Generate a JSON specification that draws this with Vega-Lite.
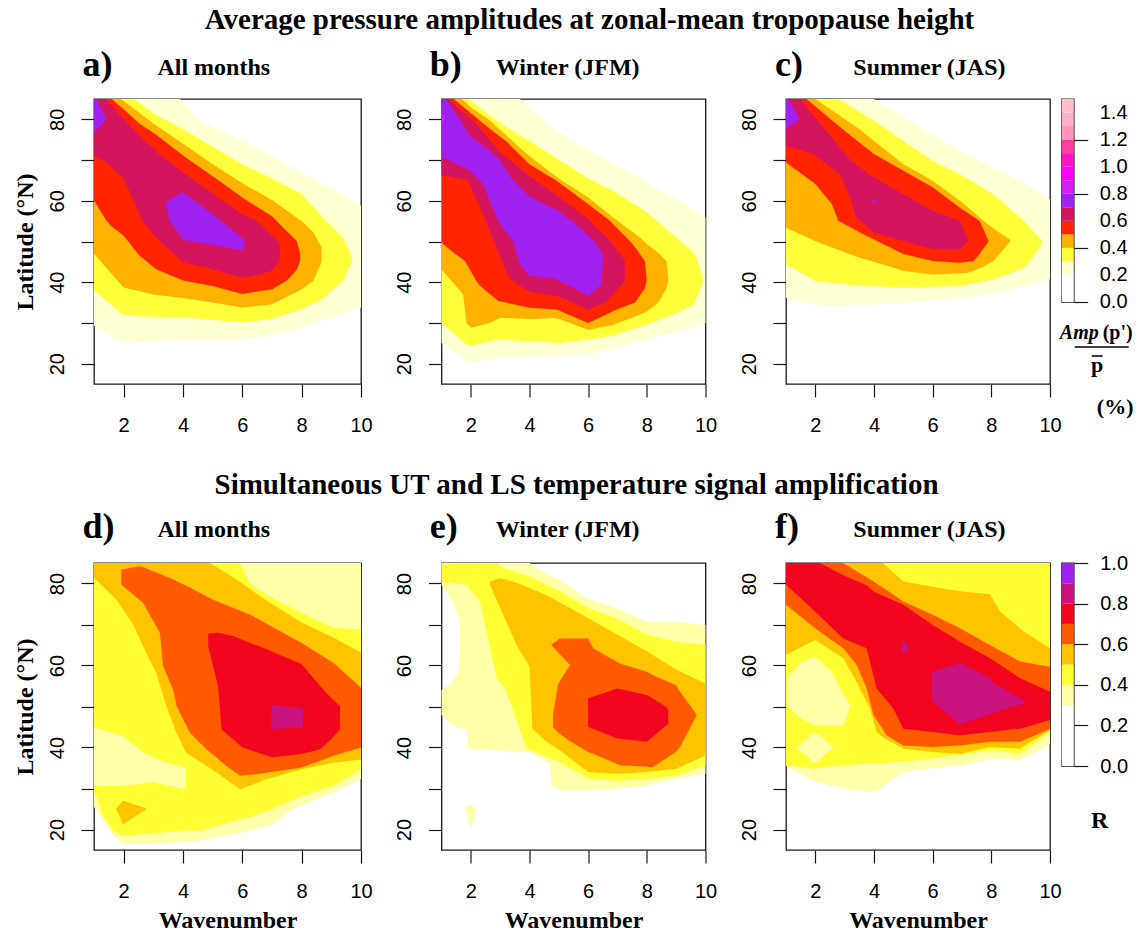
{
"$schema": "https://vega.github.io/schema/vega-lite/v6.json",
"background": "white",
"padding": {"left": 12, "top": 5, "right": 5, "bottom": 5},
"config": {
 "view": {"stroke": "#1a1a1a", "strokeWidth": 1.3},
 "axis": {"grid": false, "domain": false, "ticks": true, "tickColor": "#1a1a1a", "tickWidth": 1.2, "tickSize": 13, "labelFont": "Liberation Sans", "labelFontSize": 20, "labelColor": "#000", "titleFont": "Liberation Serif", "titleFontSize": 24, "titleFontWeight": "bold", "titleColor": "#000", "labelOverlap": false, "labelFlush": false, "labelBound": false},
 "text": {"font": "Liberation Serif", "fontWeight": "bold", "color": "#000"},
 "area": {"strokeWidth": 0}
},
"datasets": {
 "a": [
  {"c":"p2","w":1,"lo":29.3,"hi":85},{"c":"p2","w":2,"lo":25,"hi":85},{"c":"p2","w":3,"lo":25.5,"hi":85},{"c":"p2","w":3.9,"lo":26,"hi":85},{"c":"p2","w":4.57,"lo":26,"hi":79.7},{"c":"p2","w":6,"lo":26,"hi":74.8},{"c":"p2","w":7,"lo":26.9,"hi":71},{"c":"p2","w":8,"lo":28.9,"hi":67},{"c":"p2","w":9,"lo":31.4,"hi":63},{"c":"p2","w":10,"lo":33.8,"hi":58.8},
  {"c":"p3","w":1,"lo":38,"hi":85},{"c":"p3","w":2,"lo":31.8,"hi":85},{"c":"p3","w":2.35,"lo":31.7,"hi":85},{"c":"p3","w":3,"lo":31.5,"hi":81.5},{"c":"p3","w":4,"lo":31.4,"hi":77.6},{"c":"p3","w":5,"lo":30.8,"hi":73.3},{"c":"p3","w":6,"lo":30.1,"hi":69},{"c":"p3","w":7,"lo":31,"hi":65.5},{"c":"p3","w":8,"lo":33.4,"hi":61.7},{"c":"p3","w":8.7,"lo":35.9,"hi":56},{"c":"p3","w":9.4,"lo":40.4,"hi":51},{"c":"p3","w":9.7,"lo":45.3,"hi":46},
  {"c":"p4","w":1,"lo":47,"hi":85},{"c":"p4","w":1.9,"lo":39.5,"hi":85},{"c":"p4","w":2,"lo":38.7,"hi":84.5},{"c":"p4","w":3,"lo":37,"hi":79},{"c":"p4","w":4,"lo":36.1,"hi":74},{"c":"p4","w":5,"lo":35,"hi":69},{"c":"p4","w":6,"lo":33.8,"hi":64.3},{"c":"p4","w":7,"lo":34.6,"hi":60.2},{"c":"p4","w":8,"lo":38.3,"hi":55},{"c":"p4","w":8.4,"lo":40.4,"hi":52.2},{"c":"p4","w":8.67,"lo":45,"hi":48.5},
  {"c":"p5","w":1,"lo":60,"hi":85},{"c":"p5","w":1.42,"lo":55.1,"hi":85},{"c":"p5","w":1.6,"lo":53.7,"hi":85},{"c":"p5","w":2,"lo":51.4,"hi":82.5},{"c":"p5","w":2.54,"lo":46.5,"hi":78.9},{"c":"p5","w":3.1,"lo":43.2,"hi":76.2},{"c":"p5","w":4,"lo":40.4,"hi":71.1},{"c":"p5","w":5,"lo":39.1,"hi":66},{"c":"p5","w":6,"lo":37.1,"hi":60.8},{"c":"p5","w":7,"lo":38.3,"hi":56.2},{"c":"p5","w":7.5,"lo":40.4,"hi":52.5},{"c":"p5","w":7.83,"lo":43,"hi":50.2},{"c":"p5","w":7.95,"lo":45.3,"hi":47},
  {"c":"p6","w":1,"lo":71.1,"hi":85},{"c":"p6","w":1.4,"lo":69.5,"hi":85},{"c":"p6","w":2,"lo":65.5,"hi":80},{"c":"p6","w":2.65,"lo":54.7,"hi":75.2},{"c":"p6","w":3.2,"lo":50.2,"hi":71.5},{"c":"p6","w":4,"lo":44.9,"hi":67},{"c":"p6","w":5,"lo":43.2,"hi":61.7},{"c":"p6","w":6,"lo":41,"hi":56.7},{"c":"p6","w":6.5,"lo":41.8,"hi":55},{"c":"p6","w":7,"lo":42.8,"hi":51.5},{"c":"p6","w":7.27,"lo":45.3,"hi":49.5},
  {"c":"p7","s":"1","w":1,"lo":76.8,"hi":85},{"c":"p7","s":"1","w":1.08,"lo":77.4,"hi":85},{"c":"p7","s":"1","w":1.42,"lo":80,"hi":80.1},
  {"c":"p7","s":"2","w":3.44,"lo":58.5,"hi":59.6},{"c":"p7","s":"2","w":3.55,"lo":55.1,"hi":60.3},{"c":"p7","s":"2","w":4,"lo":50.4,"hi":62.1},{"c":"p7","s":"2","w":5,"lo":49.2,"hi":56.7},{"c":"p7","s":"2","w":6,"lo":47.7,"hi":50.8},{"c":"p7","s":"2","w":6.08,"lo":49.5,"hi":50.2}
 ],
 "b": [
  {"c":"p2","w":1,"lo":25.1,"hi":85},{"c":"p2","w":1.97,"lo":20.2,"hi":85},{"c":"p2","w":2.93,"lo":21.4,"hi":85},{"c":"p2","w":3.67,"lo":21.4,"hi":85},{"c":"p2","w":4.47,"lo":21.8,"hi":79.7},{"c":"p2","w":5.26,"lo":22.2,"hi":75.6},{"c":"p2","w":6,"lo":22.2,"hi":72.5},{"c":"p2","w":7.08,"lo":24.3,"hi":68.2},{"c":"p2","w":7.53,"lo":25,"hi":66.5},{"c":"p2","w":8,"lo":25.9,"hi":64.4},{"c":"p2","w":9.1,"lo":28,"hi":60},{"c":"p2","w":10,"lo":30,"hi":55.9},
  {"c":"p3","w":1,"lo":30,"hi":85},{"c":"p3","w":1.9,"lo":24.4,"hi":85},{"c":"p3","w":2,"lo":24.4,"hi":84.5},{"c":"p3","w":2.93,"lo":25.9,"hi":79.4},{"c":"p3","w":4,"lo":25.5,"hi":74.7},{"c":"p3","w":5.03,"lo":25.1,"hi":69.9},{"c":"p3","w":6,"lo":25.9,"hi":65.5},{"c":"p3","w":6.85,"lo":26.9,"hi":62.4},{"c":"p3","w":8,"lo":29.6,"hi":57.2},{"c":"p3","w":9,"lo":32.4,"hi":51},{"c":"p3","w":9.58,"lo":34.5,"hi":47.3},{"c":"p3","w":9.7,"lo":36.4,"hi":46},{"c":"p3","w":9.92,"lo":40.2,"hi":40.4},
  {"c":"p4","w":1,"lo":43.2,"hi":85},{"c":"p4","w":1.68,"lo":37.5,"hi":85},{"c":"p4","w":1.74,"lo":37,"hi":84.7},{"c":"p4","w":1.85,"lo":30,"hi":84},{"c":"p4","w":2,"lo":28.8,"hi":83},{"c":"p4","w":2.65,"lo":30,"hi":79.7},{"c":"p4","w":3,"lo":31.3,"hi":77.4},{"c":"p4","w":3.78,"lo":31,"hi":72.3},{"c":"p4","w":4,"lo":30.9,"hi":71},{"c":"p4","w":4.8,"lo":31.2,"hi":66.5},{"c":"p4","w":5,"lo":31,"hi":65.5},{"c":"p4","w":6,"lo":28.3,"hi":60.8},{"c":"p4","w":6.85,"lo":29.5,"hi":55.9},{"c":"p4","w":7,"lo":30,"hi":55.1},{"c":"p4","w":7.76,"lo":32,"hi":51},{"c":"p4","w":8,"lo":32.8,"hi":49.4},{"c":"p4","w":8.39,"lo":35,"hi":47.2},{"c":"p4","w":8.67,"lo":38.5,"hi":45.2},{"c":"p4","w":8.73,"lo":40.3,"hi":41},
  {"c":"p5","w":1,"lo":49.7,"hi":85},{"c":"p5","w":1.42,"lo":47.2,"hi":85},{"c":"p5","w":1.8,"lo":45.2,"hi":82.7},{"c":"p5","w":2.19,"lo":40.3,"hi":80.4},{"c":"p5","w":2.3,"lo":39.2,"hi":79.7},{"c":"p5","w":2.93,"lo":35.4,"hi":76.1},{"c":"p5","w":3.2,"lo":35,"hi":74.7},{"c":"p5","w":4,"lo":33.7,"hi":69},{"c":"p5","w":4.92,"lo":33.3,"hi":64.9},{"c":"p5","w":6,"lo":30,"hi":59.2},{"c":"p5","w":6.74,"lo":32.5,"hi":55.1},{"c":"p5","w":6.85,"lo":32.9,"hi":54.3},{"c":"p5","w":7.42,"lo":34.5,"hi":50.1},{"c":"p5","w":7.6,"lo":35,"hi":48.6},{"c":"p5","w":7.93,"lo":38.5,"hi":45.2},{"c":"p5","w":7.99,"lo":40.3,"hi":41},
  {"c":"p6","w":1,"lo":66.3,"hi":85},{"c":"p6","w":1.23,"lo":66,"hi":85},{"c":"p6","w":1.9,"lo":65,"hi":80.8},{"c":"p6","w":2.08,"lo":62,"hi":79.7},{"c":"p6","w":2.4,"lo":57,"hi":77},{"c":"p6","w":2.9,"lo":48,"hi":72.8},{"c":"p6","w":3,"lo":46.3,"hi":72},{"c":"p6","w":3.3,"lo":41,"hi":70.2},{"c":"p6","w":4,"lo":37.6,"hi":66},{"c":"p6","w":5,"lo":36.5,"hi":61},{"c":"p6","w":6,"lo":33.3,"hi":55.5},{"c":"p6","w":6.6,"lo":35,"hi":51.2},{"c":"p6","w":6.7,"lo":35.7,"hi":50.5},{"c":"p6","w":7.25,"lo":40.3,"hi":45.5},
  {"c":"p7","w":1,"lo":70.6,"hi":85},{"c":"p7","w":1.17,"lo":70.2,"hi":85},{"c":"p7","w":1.97,"lo":67.4,"hi":76},{"c":"p7","w":2.42,"lo":64,"hi":73.5},{"c":"p7","w":2.93,"lo":55,"hi":70.6},{"c":"p7","w":3.44,"lo":50,"hi":65},{"c":"p7","w":3.67,"lo":44.4,"hi":63.4},{"c":"p7","w":4,"lo":41.5,"hi":61},{"c":"p7","w":4.8,"lo":41.1,"hi":58.2},{"c":"p7","w":5,"lo":40.4,"hi":57.5},{"c":"p7","w":5.7,"lo":37.9,"hi":53.5},{"c":"p7","w":6,"lo":36.6,"hi":51.4},{"c":"p7","w":6.2,"lo":37.8,"hi":50},{"c":"p7","w":6.45,"lo":39.5,"hi":47.6},{"c":"p7","w":6.5,"lo":45,"hi":47},
  {"c":"p8","w":1,"lo":79,"hi":81.5},{"c":"p8","w":1.1,"lo":80.2,"hi":80.4}
 ],
 "c": [
  {"c":"p2","w":1,"lo":36.2,"hi":85},{"c":"p2","w":1.93,"lo":34.5,"hi":85},{"c":"p2","w":2.95,"lo":34.1,"hi":85},{"c":"p2","w":3.98,"lo":34.5,"hi":85},{"c":"p2","w":4.89,"lo":34.9,"hi":81.3},{"c":"p2","w":6,"lo":35.6,"hi":76},{"c":"p2","w":6.93,"lo":36.2,"hi":72.3},{"c":"p2","w":8.07,"lo":37.4,"hi":68.2},{"c":"p2","w":9.2,"lo":39.2,"hi":64.1},{"c":"p2","w":10,"lo":40.7,"hi":60.4},
  {"c":"p3","w":1,"lo":44.4,"hi":85},{"c":"p3","w":2,"lo":40.3,"hi":85},{"c":"p3","w":2.78,"lo":39.7,"hi":85},{"c":"p3","w":3.52,"lo":39.1,"hi":81.8},{"c":"p3","w":4,"lo":39,"hi":79.7},{"c":"p3","w":5,"lo":38.7,"hi":74.7},{"c":"p3","w":6,"lo":38.9,"hi":69.8},{"c":"p3","w":6.93,"lo":39.1,"hi":66.5},{"c":"p3","w":8.07,"lo":40.7,"hi":61.6},{"c":"p3","w":9.1,"lo":43.5,"hi":55.1},{"c":"p3","w":9.32,"lo":45.2,"hi":53.3},{"c":"p3","w":9.72,"lo":49.5,"hi":50.3},
  {"c":"p4","w":1,"lo":53.4,"hi":85},{"c":"p4","w":2,"lo":50.1,"hi":85},{"c":"p4","w":2.1,"lo":49.8,"hi":84.5},{"c":"p4","w":3.07,"lo":47.2,"hi":79.7},{"c":"p4","w":3.52,"lo":46,"hi":77.5},{"c":"p4","w":4,"lo":45,"hi":74.7},{"c":"p4","w":5,"lo":42.8,"hi":69},{"c":"p4","w":6,"lo":41.9,"hi":64.9},{"c":"p4","w":6.93,"lo":42.2,"hi":60},{"c":"p4","w":7.2,"lo":42.3,"hi":58.4},{"c":"p4","w":7.73,"lo":43.8,"hi":55.1},{"c":"p4","w":8.07,"lo":45.2,"hi":53.2},{"c":"p4","w":8.64,"lo":50,"hi":50.4},
  {"c":"p5","w":1,"lo":69.4,"hi":85},{"c":"p5","w":1.7,"lo":65.7,"hi":85},{"c":"p5","w":2,"lo":64.1,"hi":83.2},{"c":"p5","w":2.56,"lo":59.2,"hi":79.8},{"c":"p5","w":2.78,"lo":55.1,"hi":78.5},{"c":"p5","w":3.07,"lo":54,"hi":76.8},{"c":"p5","w":3.52,"lo":52.2,"hi":74.2},{"c":"p5","w":4,"lo":50.5,"hi":71.5},{"c":"p5","w":5,"lo":46.9,"hi":67.4},{"c":"p5","w":6,"lo":45.2,"hi":63.3},{"c":"p5","w":6.93,"lo":44.8,"hi":58.3},{"c":"p5","w":7.4,"lo":45.2,"hi":56},{"c":"p5","w":7.6,"lo":47,"hi":55.1},{"c":"p5","w":7.9,"lo":50,"hi":50.2},
  {"c":"p6","w":1,"lo":73.5,"hi":85},{"c":"p6","w":1.48,"lo":72.5,"hi":85},{"c":"p6","w":1.93,"lo":71.5,"hi":81},{"c":"p6","w":2.84,"lo":66.5,"hi":73},{"c":"p6","w":3.18,"lo":60.8,"hi":70},{"c":"p6","w":3.4,"lo":55.9,"hi":68.8},{"c":"p6","w":4,"lo":52.2,"hi":65.7},{"c":"p6","w":5,"lo":50.1,"hi":61.6},{"c":"p6","w":6,"lo":48.1,"hi":57.5},{"c":"p6","w":6.93,"lo":48.1,"hi":55.1},{"c":"p6","w":7.2,"lo":50,"hi":50.3},
  {"c":"p7","s":"1","w":1,"lo":77.6,"hi":85},{"c":"p7","s":"1","w":1.15,"lo":78.5,"hi":84},{"c":"p7","s":"1","w":1.48,"lo":80,"hi":80.1},
  {"c":"p7","s":"2","w":3.95,"lo":59.9,"hi":60.1},{"c":"p7","s":"2","w":4,"lo":59.5,"hi":60.5},{"c":"p7","s":"2","w":4.1,"lo":59.9,"hi":60.1}
 ],
 "d": [
  {"c":"r3","w":1,"lo":25.5,"hi":85},{"c":"r3","w":1.64,"lo":18.5,"hi":85},{"c":"r3","w":1.98,"lo":16.5,"hi":85},{"c":"r3","w":3,"lo":16.5,"hi":85},{"c":"r3","w":4.57,"lo":17.3,"hi":85},{"c":"r3","w":6,"lo":19.3,"hi":85},{"c":"r3","w":7.04,"lo":21.3,"hi":85},{"c":"r3","w":7.6,"lo":24.5,"hi":85},{"c":"r3","w":8,"lo":26,"hi":85},{"c":"r3","w":9.07,"lo":29,"hi":85},{"c":"r3","w":10,"lo":32.3,"hi":85},
  {"c":"r4","s":"A","w":1,"lo":29.5,"hi":30.7},{"c":"r4","s":"A","w":1.3,"lo":23.5,"hi":30.7},{"c":"r4","s":"A","w":1.64,"lo":19.7,"hi":30.7},{"c":"r4","s":"A","w":1.98,"lo":18.5,"hi":30.7},{"c":"r4","s":"A","w":3,"lo":19,"hi":31.5},{"c":"r4","s":"A","w":4.1,"lo":19.8,"hi":29.9},{"c":"r4","s":"A","w":4.14,"lo":19.8,"hi":29.9},
  {"c":"r4","s":"B","w":1,"lo":44.9,"hi":85},{"c":"r4","s":"B","w":1.98,"lo":42.8,"hi":85},{"c":"r4","s":"B","w":2.65,"lo":38.8,"hi":85},{"c":"r4","s":"B","w":3.44,"lo":36.3,"hi":85},{"c":"r4","s":"B","w":4.1,"lo":35.1,"hi":85},{"c":"r4","s":"B","w":4.105,"lo":19.8,"hi":85},{"c":"r4","s":"B","w":4.57,"lo":19.7,"hi":85},{"c":"r4","s":"B","w":5.92,"lo":22.5,"hi":85},{"c":"r4","s":"B","w":6.28,"lo":23,"hi":79.7},{"c":"r4","s":"B","w":7,"lo":25,"hi":76.5},{"c":"r4","s":"B","w":8,"lo":28.2,"hi":72.8},{"c":"r4","s":"B","w":9.07,"lo":30.7,"hi":69.2},{"c":"r4","s":"B","w":10,"lo":34.7,"hi":68.8},
  {"c":"r5","s":"m","w":1,"lo":81.4,"hi":85},{"c":"r5","s":"m","w":1.75,"lo":76.1,"hi":85},{"c":"r5","s":"m","w":2.32,"lo":70,"hi":85},{"c":"r5","s":"m","w":2.65,"lo":64.7,"hi":85},{"c":"r5","s":"m","w":3.1,"lo":58.2,"hi":85},{"c":"r5","s":"m","w":3.44,"lo":50.1,"hi":85},{"c":"r5","s":"m","w":3.78,"lo":43.6,"hi":85},{"c":"r5","s":"m","w":4.1,"lo":38.8,"hi":85},{"c":"r5","s":"m","w":4.9,"lo":35,"hi":85},{"c":"r5","s":"m","w":5.13,"lo":33.9,"hi":84},{"c":"r5","s":"m","w":5.92,"lo":29.8,"hi":80.4},{"c":"r5","s":"m","w":6.82,"lo":32.3,"hi":75.8},{"c":"r5","s":"m","w":8,"lo":34.7,"hi":70.5},{"c":"r5","s":"m","w":9.07,"lo":36.3,"hi":66.8},{"c":"r5","s":"m","w":10,"lo":37.1,"hi":63.1},
  {"c":"r5","s":"t","w":1.75,"lo":25,"hi":25.1},{"c":"r5","s":"t","w":1.98,"lo":21.3,"hi":27},{"c":"r5","s":"t","w":2.77,"lo":25,"hi":25.1},
  {"c":"r6","w":1.92,"lo":79.7,"hi":83.4},{"c":"r6","w":2.54,"lo":76,"hi":84.2},{"c":"r6","w":2.65,"lo":75.3,"hi":84},{"c":"r6","w":3.22,"lo":68,"hi":82.3},{"c":"r6","w":3.33,"lo":59.9,"hi":82},{"c":"r6","w":3.67,"lo":54,"hi":81},{"c":"r6","w":3.78,"lo":50.1,"hi":80.6},{"c":"r6","w":4.23,"lo":43.6,"hi":79},{"c":"r6","w":4.79,"lo":39.6,"hi":76.9},{"c":"r6","w":5,"lo":38.3,"hi":76.1},{"c":"r6","w":5.47,"lo":35.5,"hi":74.7},{"c":"r6","w":5.92,"lo":33.1,"hi":73.4},{"c":"r6","w":6.37,"lo":33.4,"hi":72},{"c":"r6","w":8,"lo":35.1,"hi":65.5},{"c":"r6","w":9.07,"lo":38,"hi":60.7},{"c":"r6","w":10,"lo":40,"hi":54.6},
  {"c":"r7","w":4.85,"lo":64.7,"hi":67.8},{"c":"r7","w":5.18,"lo":55,"hi":68},{"c":"r7","w":5.3,"lo":44.4,"hi":67.8},{"c":"r7","w":5.69,"lo":42,"hi":67.2},{"c":"r7","w":6,"lo":40,"hi":66.3},{"c":"r7","w":7,"lo":37.6,"hi":63.4},{"c":"r7","w":8,"lo":38.4,"hi":60.3},{"c":"r7","w":8.62,"lo":39.6,"hi":55},{"c":"r7","w":9,"lo":42,"hi":52},{"c":"r7","w":9.29,"lo":44.4,"hi":50.1},
  {"c":"r8","w":6.98,"lo":44.5,"hi":50.5},{"c":"r8","w":8.05,"lo":44.9,"hi":49.6}
 ],
 "e": [
  {"c":"r3","s":"1","w":1,"lo":47.9,"hi":54},{"c":"r3","s":"1","w":1.34,"lo":45.5,"hi":55.6},{"c":"r3","s":"1","w":1.57,"lo":45,"hi":58.5},{"c":"r3","s":"1","w":1.63,"lo":44.8,"hi":64},{"c":"r3","s":"1","w":1.635,"lo":44.7,"hi":85},{"c":"r3","s":"1","w":1.85,"lo":44.6,"hi":85},{"c":"r3","s":"1","w":1.91,"lo":39.7,"hi":85},{"c":"r3","s":"1","w":2.93,"lo":39.3,"hi":85},{"c":"r3","s":"1","w":4,"lo":38.9,"hi":85},{"c":"r3","s":"1","w":4.7,"lo":36,"hi":81.8},{"c":"r3","s":"1","w":4.75,"lo":30.5,"hi":81.6},{"c":"r3","s":"1","w":5.03,"lo":29.5,"hi":80.9},{"c":"r3","s":"1","w":5.94,"lo":29.5,"hi":76.4},{"c":"r3","s":"1","w":6.97,"lo":29.9,"hi":74},{"c":"r3","s":"1","w":7.99,"lo":30.8,"hi":70.7},{"c":"r3","s":"1","w":9,"lo":32.4,"hi":70.7},{"c":"r3","s":"1","w":10,"lo":33.6,"hi":69.9},
  {"c":"r3","s":"2","w":1,"lo":79.7,"hi":85},{"c":"r3","s":"2","w":1.34,"lo":76,"hi":85},{"c":"r3","s":"2","w":1.57,"lo":72,"hi":85},{"c":"r3","s":"2","w":1.63,"lo":69.9,"hi":85},{"c":"r3","s":"2","w":1.66,"lo":69.9,"hi":85},
  {"c":"r3","s":"3","w":1.8,"lo":25.3,"hi":25.5},{"c":"r3","s":"3","w":2,"lo":20.2,"hi":25.8},{"c":"r3","s":"3","w":2.2,"lo":25,"hi":25.1},
  {"c":"r4","w":1,"lo":80.5,"hi":85},{"c":"r4","w":1.85,"lo":79.7,"hi":85},{"c":"r4","w":2.3,"lo":75.6,"hi":85},{"c":"r4","w":2.6,"lo":66,"hi":85},{"c":"r4","w":2.88,"lo":56.9,"hi":85},{"c":"r4","w":3.16,"lo":54.4,"hi":83.6},{"c":"r4","w":3.5,"lo":47.9,"hi":82.9},{"c":"r4","w":3.9,"lo":39.7,"hi":82},{"c":"r4","w":4,"lo":39.5,"hi":81.7},{"c":"r4","w":5,"lo":36.5,"hi":78.3},{"c":"r4","w":6,"lo":32.5,"hi":74},{"c":"r4","w":7,"lo":31.8,"hi":71.4},{"c":"r4","w":8,"lo":32.4,"hi":67.5},{"c":"r4","w":9,"lo":33.2,"hi":65.8},{"c":"r4","w":10,"lo":35.7,"hi":65},
  {"c":"r5","w":2.65,"lo":79.7,"hi":80.5},{"c":"r5","w":3,"lo":74,"hi":81.3},{"c":"r5","w":3.56,"lo":65,"hi":80.2},{"c":"r5","w":4,"lo":59.7,"hi":78.9},{"c":"r5","w":4.1,"lo":44.6,"hi":78.6},{"c":"r5","w":4.58,"lo":41.4,"hi":77.2},{"c":"r5","w":5,"lo":39.5,"hi":75.5},{"c":"r5","w":5.26,"lo":38.1,"hi":74.5},{"c":"r5","w":6,"lo":34,"hi":71.5},{"c":"r5","w":7,"lo":33.6,"hi":67.5},{"c":"r5","w":8,"lo":34,"hi":63.5},{"c":"r5","w":9,"lo":34.8,"hi":59},{"c":"r5","w":10,"lo":38.1,"hi":55.6},
  {"c":"r6","s":"m","w":4.8,"lo":45,"hi":48},{"c":"r6","s":"m","w":4.98,"lo":43.6,"hi":55.6},{"c":"r6","s":"m","w":5.38,"lo":41.5,"hi":60.1},{"c":"r6","s":"m","w":5.385,"lo":41.5,"hi":66.6},{"c":"r6","s":"m","w":6,"lo":38.9,"hi":66.6},{"c":"r6","s":"m","w":6.17,"lo":38.5,"hi":64.2},{"c":"r6","s":"m","w":7.08,"lo":35.7,"hi":60.5},{"c":"r6","s":"m","w":8,"lo":35.3,"hi":58.5},{"c":"r6","s":"m","w":8.2,"lo":35.2,"hi":57.7},{"c":"r6","s":"m","w":9,"lo":39,"hi":55.2},{"c":"r6","s":"m","w":9.13,"lo":40.1,"hi":53.6},{"c":"r6","s":"m","w":9.7,"lo":47.9,"hi":48},
  {"c":"r6","s":"l","w":4.75,"lo":65,"hi":65.1},{"c":"r6","s":"l","w":5.03,"lo":62.8,"hi":66.6},{"c":"r6","s":"l","w":5.38,"lo":60.1,"hi":66.6},{"c":"r6","s":"l","w":5.41,"lo":60.1,"hi":66.6},
  {"c":"r7","w":6,"lo":45,"hi":52},{"c":"r7","w":7,"lo":42.2,"hi":54.4},{"c":"r7","w":8,"lo":41.4,"hi":52.8},{"c":"r7","w":8.67,"lo":45.4,"hi":49.9},{"c":"r7","w":8.73,"lo":45.5,"hi":49}
 ],
 "f": [
  {"c":"r3","w":1,"lo":35.5,"hi":85},{"c":"r3","w":2,"lo":31.6,"hi":85},{"c":"r3","w":3,"lo":30,"hi":85},{"c":"r3","w":4,"lo":29.1,"hi":85},{"c":"r3","w":5,"lo":34,"hi":85},{"c":"r3","w":6,"lo":35,"hi":85},{"c":"r3","w":7,"lo":35.7,"hi":85},{"c":"r3","w":8,"lo":37.3,"hi":85},{"c":"r3","w":9,"lo":36.9,"hi":85},{"c":"r3","w":10,"lo":41,"hi":85},
  {"c":"r4","w":1,"lo":35.7,"hi":85},{"c":"r4","w":1.93,"lo":34.8,"hi":85},{"c":"r4","w":2.95,"lo":35.7,"hi":85},{"c":"r4","w":5,"lo":36.5,"hi":85},{"c":"r4","w":6.93,"lo":38.1,"hi":85},{"c":"r4","w":7.95,"lo":39.3,"hi":85},{"c":"r4","w":8.98,"lo":38.5,"hi":85},{"c":"r4","w":10,"lo":43.8,"hi":85},
  {"c":"r3","s":"h1","w":1.05,"lo":50,"hi":57},{"c":"r3","s":"h1","w":1.53,"lo":47,"hi":61},{"c":"r3","s":"h1","w":2,"lo":45.4,"hi":62.2},{"c":"r3","s":"h1","w":2.56,"lo":45.4,"hi":58.5},{"c":"r3","s":"h1","w":2.95,"lo":45.4,"hi":53},{"c":"r3","s":"h1","w":3.18,"lo":50,"hi":50.5},
  {"c":"r3","s":"h2","w":1.36,"lo":40,"hi":40.1},{"c":"r3","s":"h2","w":1.99,"lo":36.1,"hi":43.8},{"c":"r3","s":"h2","w":2.61,"lo":40,"hi":40.1},
  {"c":"r5","w":1,"lo":62.6,"hi":85},{"c":"r5","w":1.99,"lo":66.2,"hi":85},{"c":"r5","w":2.95,"lo":61.8,"hi":85},{"c":"r5","w":3.41,"lo":56,"hi":85},{"c":"r5","w":3.86,"lo":49.5,"hi":85},{"c":"r5","w":4.09,"lo":43.8,"hi":85},{"c":"r5","w":4.3,"lo":42.5,"hi":85},{"c":"r5","w":5,"lo":39.7,"hi":80.5},{"c":"r5","w":6,"lo":38.9,"hi":79.2},{"c":"r5","w":6.93,"lo":38.5,"hi":78.1},{"c":"r5","w":7.95,"lo":40.1,"hi":77.4},{"c":"r5","w":8.3,"lo":40,"hi":73.2},{"c":"r5","w":8.98,"lo":39.7,"hi":69},{"c":"r5","w":9.1,"lo":40.3,"hi":68.3},{"c":"r5","w":10,"lo":44.2,"hi":64.2},
  {"c":"r6","w":1,"lo":74.8,"hi":85},{"c":"r6","w":1.99,"lo":69.1,"hi":85},{"c":"r6","w":2.95,"lo":64.2,"hi":85},{"c":"r6","w":3.41,"lo":60.1,"hi":83},{"c":"r6","w":3.75,"lo":54.4,"hi":81.5},{"c":"r6","w":3.98,"lo":47.9,"hi":80.5},{"c":"r6","w":4.43,"lo":43,"hi":78.4},{"c":"r6","w":5,"lo":40.5,"hi":75.6},{"c":"r6","w":6,"lo":40.1,"hi":72.4},{"c":"r6","w":6.93,"lo":40.5,"hi":69.1},{"c":"r6","w":7.95,"lo":41.4,"hi":65},{"c":"r6","w":8.98,"lo":41.4,"hi":61},{"c":"r6","w":10,"lo":44.6,"hi":59.7},
  {"c":"r7","w":1,"lo":79.7,"hi":85},{"c":"r7","w":1.99,"lo":73.2,"hi":85},{"c":"r7","w":2.16,"lo":72,"hi":85},{"c":"r7","w":2.95,"lo":66.6,"hi":82},{"c":"r7","w":3.75,"lo":64.2,"hi":79.6},{"c":"r7","w":3.98,"lo":57.6,"hi":78.1},{"c":"r7","w":4.09,"lo":54.4,"hi":77.7},{"c":"r7","w":4.66,"lo":49.5,"hi":75.9},{"c":"r7","w":5,"lo":44.6,"hi":74.8},{"c":"r7","w":6,"lo":43.8,"hi":69.9},{"c":"r7","w":6.93,"lo":43,"hi":65.8},{"c":"r7","w":7.95,"lo":43.8,"hi":61.8},{"c":"r7","w":8.98,"lo":44.6,"hi":56.9},{"c":"r7","w":10,"lo":46.7,"hi":53.6},
  {"c":"r8","s":"m","w":5.97,"lo":52,"hi":57.5},{"c":"r8","s":"m","w":6,"lo":51.2,"hi":58.5},{"c":"r8","s":"m","w":6.93,"lo":45.6,"hi":60.6},{"c":"r8","s":"m","w":7.95,"lo":48.1,"hi":57},{"c":"r8","s":"m","w":8.07,"lo":48.5,"hi":55.8},{"c":"r8","s":"m","w":9.2,"lo":50.9,"hi":51},
  {"c":"r8","s":"d","w":4.9,"lo":63.5,"hi":63.6},{"c":"r8","s":"d","w":5,"lo":63,"hi":66.5},{"c":"r8","s":"d","w":5.2,"lo":63.8,"hi":64}
 ],
 "keyP": [
  {"c":"p0","lo":0,"hi":0.2},{"c":"p2","lo":0.2,"hi":0.3},{"c":"p3","lo":0.3,"hi":0.4},{"c":"p4","lo":0.4,"hi":0.5},{"c":"p5","lo":0.5,"hi":0.6},{"c":"p6","lo":0.6,"hi":0.7},{"c":"p7","lo":0.7,"hi":0.8},{"c":"p8","lo":0.8,"hi":0.9},{"c":"p9","lo":0.9,"hi":1.0},{"c":"p10","lo":1.0,"hi":1.1},{"c":"p11","lo":1.1,"hi":1.2},{"c":"p12","lo":1.2,"hi":1.3},{"c":"p13","lo":1.3,"hi":1.4},{"c":"p14","lo":1.4,"hi":1.5}
 ],
 "keyPticks": [
  {"v":0},{"v":0.2},{"v":0.4},{"v":0.6},{"v":0.8},{"v":1.0},{"v":1.2},{"v":1.4}
 ],
 "keyR": [
  {"c":"r0","lo":0,"hi":0.3},{"c":"r3","lo":0.3,"hi":0.4},{"c":"r4","lo":0.4,"hi":0.5},{"c":"r5","lo":0.5,"hi":0.6},{"c":"r6","lo":0.6,"hi":0.7},{"c":"r7","lo":0.7,"hi":0.8},{"c":"r8","lo":0.8,"hi":0.9},{"c":"r9","lo":0.9,"hi":1.0}
 ]
},
"vconcat": [
 {"hconcat": [
  {"width": 267, "height": 285, "layer": [
   {"data": {"name": "a"}, "mark": {"type": "area"}, "encoding": {
    "x": {"field": "w", "type": "quantitative", "scale": {"domain": [1,10], "nice": false, "zero": false}, "axis": {"values": [2,4,6,8,10], "labelBaseline": "alphabetic", "labelPadding": 34, "labelOverlap": false, "title": null}},
    "y": {"field": "lo", "type": "quantitative", "stack": null, "scale": {"domain": [15,85], "nice": false, "zero": false}, "axis": {"values": [20,30,40,50,60,70,80], "labelExpr": "datum.value % 20 === 0 ? datum.label : ''", "labelAngle": -90, "labelAlign": "center", "labelBaseline": "alphabetic", "labelPadding": 18, "labelOverlap": false, "title": "Latitude (°N)", "titlePadding": 10}},
    "y2": {"field": "hi"},
    "color": {"field": "c", "type": "nominal", "legend": null, "scale": {"domain": ["p0","p2","p3","p4","p5","p6","p7","p8","p9","p10","p11","p12","p13","p14","r0","r3","r4","r5","r6","r7","r8","r9"], "range": ["#ffffff","#ffffd4","#ffff3c","#ffb200","#ff2400","#d4145c","#a020f0","#d21ef0","#ff00ff","#ff14c8","#ff40a0","#ff96c0","#ffb0c8","#ffc0cb","#ffffff","#ffffaa","#ffff33","#ffc400","#ff5a00","#f2051f","#cb137f","#a020f0"]}},
    "detail": {"field": "s"}}},
   {"data": {"values": [{}]}, "mark": {"type": "text", "fontSize": 36, "align": "left", "baseline": "alphabetic", "dx": -11.6, "dy": -23}, "encoding": {"x": {"datum": 1}, "y": {"datum": 85}, "text": {"value": "a)"}}},
   {"data": {"values": [{}]}, "mark": {"type": "text", "fontSize": 24, "align": "left", "baseline": "alphabetic", "dx": 63.4, "dy": -24}, "encoding": {"x": {"datum": 1}, "y": {"datum": 85}, "text": {"value": "All months"}}}
  ]},
  {"width": 264, "height": 285, "layer": [
   {"data": {"name": "b"}, "mark": {"type": "area"}, "encoding": {
    "x": {"field": "w", "type": "quantitative", "scale": {"domain": [1,10], "nice": false, "zero": false}, "axis": {"values": [2,4,6,8,10], "labelBaseline": "alphabetic", "labelPadding": 34, "labelOverlap": false, "title": null}},
    "y": {"field": "lo", "type": "quantitative", "stack": null, "scale": {"domain": [15,85], "nice": false, "zero": false}, "axis": {"values": [20,30,40,50,60,70,80], "labelExpr": "datum.value % 20 === 0 ? datum.label : ''", "labelAngle": -90, "labelAlign": "center", "labelBaseline": "alphabetic", "labelPadding": 18, "labelOverlap": false, "title": null}},
    "y2": {"field": "hi"},
    "color": {"field": "c", "type": "nominal", "legend": null, "scale": {"domain": ["p0","p2","p3","p4","p5","p6","p7","p8","p9","p10","p11","p12","p13","p14","r0","r3","r4","r5","r6","r7","r8","r9"], "range": ["#ffffff","#ffffd4","#ffff3c","#ffb200","#ff2400","#d4145c","#a020f0","#d21ef0","#ff00ff","#ff14c8","#ff40a0","#ff96c0","#ffb0c8","#ffc0cb","#ffffff","#ffffaa","#ffff33","#ffc400","#ff5a00","#f2051f","#cb137f","#a020f0"]}},
    "detail": {"field": "s"}}},
   {"data": {"values": [{}]}, "mark": {"type": "text", "fontSize": 36, "align": "left", "baseline": "alphabetic", "dx": -11.7, "dy": -23}, "encoding": {"x": {"datum": 1}, "y": {"datum": 85}, "text": {"value": "b)"}}},
   {"data": {"values": [{}]}, "mark": {"type": "text", "fontSize": 24, "align": "left", "baseline": "alphabetic", "dx": 54.3, "dy": -24}, "encoding": {"x": {"datum": 1}, "y": {"datum": 85}, "text": {"value": "Winter (JFM)"}}},
   {"data": {"values": [{}]}, "mark": {"type": "text", "fontSize": 29, "align": "center", "baseline": "alphabetic", "dx": 16, "dy": -70}, "encoding": {"x": {"datum": 5.5}, "y": {"datum": 85}, "text": {"value": "Average pressure amplitudes at zonal-mean tropopause height"}}}
  ]},
  {"hconcat": [
   {"width": 264, "height": 285, "layer": [
    {"data": {"name": "c"}, "mark": {"type": "area"}, "encoding": {
     "x": {"field": "w", "type": "quantitative", "scale": {"domain": [1,10], "nice": false, "zero": false}, "axis": {"values": [2,4,6,8,10], "labelBaseline": "alphabetic", "labelPadding": 34, "labelOverlap": false, "title": null}},
     "y": {"field": "lo", "type": "quantitative", "stack": null, "scale": {"domain": [15,85], "nice": false, "zero": false}, "axis": {"values": [20,30,40,50,60,70,80], "labelExpr": "datum.value % 20 === 0 ? datum.label : ''", "labelAngle": -90, "labelAlign": "center", "labelBaseline": "alphabetic", "labelPadding": 18, "labelOverlap": false, "title": null}},
     "y2": {"field": "hi"},
     "color": {"field": "c", "type": "nominal", "legend": null, "scale": {"domain": ["p0","p2","p3","p4","p5","p6","p7","p8","p9","p10","p11","p12","p13","p14","r0","r3","r4","r5","r6","r7","r8","r9"], "range": ["#ffffff","#ffffd4","#ffff3c","#ffb200","#ff2400","#d4145c","#a020f0","#d21ef0","#ff00ff","#ff14c8","#ff40a0","#ff96c0","#ffb0c8","#ffc0cb","#ffffff","#ffffaa","#ffff33","#ffc400","#ff5a00","#f2051f","#cb137f","#a020f0"]}},
     "detail": {"field": "s"}}},
    {"data": {"values": [{}]}, "mark": {"type": "text", "fontSize": 36, "align": "left", "baseline": "alphabetic", "dx": -11, "dy": -23}, "encoding": {"x": {"datum": 1}, "y": {"datum": 85}, "text": {"value": "c)"}}},
    {"data": {"values": [{}]}, "mark": {"type": "text", "fontSize": 24, "align": "left", "baseline": "alphabetic", "dx": 67.3, "dy": -24}, "encoding": {"x": {"datum": 1}, "y": {"datum": 85}, "text": {"value": "Summer (JAS)"}}}
   ]},
   {"width": 12, "height": 203, "layer": [
    {"data": {"name": "keyP"}, "mark": {"type": "rect"}, "encoding": {
     "x": {"datum": 0, "scale": {"domain": [0,1], "nice": false, "zero": false}, "axis": null},
     "x2": {"datum": 1},
     "y": {"field": "lo", "type": "quantitative", "scale": {"domain": [0,1.5], "nice": false, "zero": false}, "axis": {"orient": "right", "values": [0,0.2,0.4,0.6,0.8,1.0,1.2,1.4], "tickSize": 14, "labels": false, "title": null}},
     "y2": {"field": "hi"},
     "color": {"field": "c", "type": "nominal", "legend": null, "scale": {"domain": ["p0","p2","p3","p4","p5","p6","p7","p8","p9","p10","p11","p12","p13","p14","r0","r3","r4","r5","r6","r7","r8","r9"], "range": ["#ffffff","#ffffd4","#ffff3c","#ffb200","#ff2400","#d4145c","#a020f0","#d21ef0","#ff00ff","#ff14c8","#ff40a0","#ff96c0","#ffb0c8","#ffc0cb","#ffffff","#ffffaa","#ffff33","#ffc400","#ff5a00","#f2051f","#cb137f","#a020f0"]}}}},
    {"data": {"name": "keyPticks"}, "mark": {"type": "text", "font": "Liberation Sans", "fontWeight": "normal", "fontSize": 20, "align": "left", "baseline": "middle", "dx": 26}, "encoding": {"x": {"datum": 1}, "y": {"field": "v", "type": "quantitative"}, "text": {"field": "v", "type": "quantitative", "format": ".1f"}}},
    {"data": {"values": [{}]}, "mark": {"type": "text", "fontSize": 20, "fontStyle": "italic", "align": "right", "baseline": "alphabetic", "dx": 37, "dy": 37}, "encoding": {"x": {"datum": 0}, "y": {"datum": 0}, "text": {"value": "Amp"}}},
    {"data": {"values": [{}]}, "mark": {"type": "text", "fontSize": 20, "align": "left", "baseline": "alphabetic", "dx": 41, "dy": 37}, "encoding": {"x": {"datum": 0}, "y": {"datum": 0}, "text": {"value": "(p')"}}},
    {"data": {"values": [{}]}, "mark": {"type": "rule", "color": "#000", "strokeWidth": 1.5, "xOffset": 13, "x2Offset": 55, "yOffset": 45}, "encoding": {"x": {"datum": 0}, "x2": {"datum": 1}, "y": {"datum": 0}}},
    {"data": {"values": [{}]}, "mark": {"type": "rule", "color": "#000", "strokeWidth": 1.5, "xOffset": 30, "x2Offset": 29, "yOffset": 54}, "encoding": {"x": {"datum": 0}, "x2": {"datum": 1}, "y": {"datum": 0}}},
    {"data": {"values": [{}]}, "mark": {"type": "text", "fontSize": 22, "align": "center", "baseline": "alphabetic", "dx": 35.5, "dy": 70}, "encoding": {"x": {"datum": 0}, "y": {"datum": 0}, "text": {"value": "p"}}},
    {"data": {"values": [{}]}, "mark": {"type": "text", "fontSize": 22, "align": "center", "baseline": "alphabetic", "dx": 53.5, "dy": 112}, "encoding": {"x": {"datum": 0}, "y": {"datum": 0}, "text": {"value": "(%)"}}}
   ]}
  ], "spacing": 11.7, "bounds": "flush"}
 ], "spacing": 80.5, "bounds": "flush"},
 {"hconcat": [
  {"width": 267, "height": 287, "layer": [
   {"data": {"name": "d"}, "mark": {"type": "area"}, "encoding": {
    "x": {"field": "w", "type": "quantitative", "scale": {"domain": [1,10], "nice": false, "zero": false}, "axis": {"values": [2,4,6,8,10], "labelBaseline": "alphabetic", "labelPadding": 34, "labelOverlap": false, "title": "Wavenumber", "titlePadding": 7}},
    "y": {"field": "lo", "type": "quantitative", "stack": null, "scale": {"domain": [15,85], "nice": false, "zero": false}, "axis": {"values": [20,30,40,50,60,70,80], "labelExpr": "datum.value % 20 === 0 ? datum.label : ''", "labelAngle": -90, "labelAlign": "center", "labelBaseline": "alphabetic", "labelPadding": 18, "labelOverlap": false, "title": "Latitude (°N)", "titlePadding": 10}},
    "y2": {"field": "hi"},
    "color": {"field": "c", "type": "nominal", "legend": null, "scale": {"domain": ["p0","p2","p3","p4","p5","p6","p7","p8","p9","p10","p11","p12","p13","p14","r0","r3","r4","r5","r6","r7","r8","r9"], "range": ["#ffffff","#ffffd4","#ffff3c","#ffb200","#ff2400","#d4145c","#a020f0","#d21ef0","#ff00ff","#ff14c8","#ff40a0","#ff96c0","#ffb0c8","#ffc0cb","#ffffff","#ffffaa","#ffff33","#ffc400","#ff5a00","#f2051f","#cb137f","#a020f0"]}},
    "detail": {"field": "s"}}},
   {"data": {"values": [{}]}, "mark": {"type": "text", "fontSize": 36, "align": "left", "baseline": "alphabetic", "dx": -11.6, "dy": -25.5}, "encoding": {"x": {"datum": 1}, "y": {"datum": 85}, "text": {"value": "d)"}}},
   {"data": {"values": [{}]}, "mark": {"type": "text", "fontSize": 24, "align": "left", "baseline": "alphabetic", "dx": 63.4, "dy": -26}, "encoding": {"x": {"datum": 1}, "y": {"datum": 85}, "text": {"value": "All months"}}}
  ]},
  {"width": 264, "height": 287, "layer": [
   {"data": {"name": "e"}, "mark": {"type": "area"}, "encoding": {
    "x": {"field": "w", "type": "quantitative", "scale": {"domain": [1,10], "nice": false, "zero": false}, "axis": {"values": [2,4,6,8,10], "labelBaseline": "alphabetic", "labelPadding": 34, "labelOverlap": false, "title": "Wavenumber", "titlePadding": 7}},
    "y": {"field": "lo", "type": "quantitative", "stack": null, "scale": {"domain": [15,85], "nice": false, "zero": false}, "axis": {"values": [20,30,40,50,60,70,80], "labelExpr": "datum.value % 20 === 0 ? datum.label : ''", "labelAngle": -90, "labelAlign": "center", "labelBaseline": "alphabetic", "labelPadding": 18, "labelOverlap": false, "title": null}},
    "y2": {"field": "hi"},
    "color": {"field": "c", "type": "nominal", "legend": null, "scale": {"domain": ["p0","p2","p3","p4","p5","p6","p7","p8","p9","p10","p11","p12","p13","p14","r0","r3","r4","r5","r6","r7","r8","r9"], "range": ["#ffffff","#ffffd4","#ffff3c","#ffb200","#ff2400","#d4145c","#a020f0","#d21ef0","#ff00ff","#ff14c8","#ff40a0","#ff96c0","#ffb0c8","#ffc0cb","#ffffff","#ffffaa","#ffff33","#ffc400","#ff5a00","#f2051f","#cb137f","#a020f0"]}},
    "detail": {"field": "s"}}},
   {"data": {"values": [{}]}, "mark": {"type": "text", "fontSize": 36, "align": "left", "baseline": "alphabetic", "dx": -11.7, "dy": -25.5}, "encoding": {"x": {"datum": 1}, "y": {"datum": 85}, "text": {"value": "e)"}}},
   {"data": {"values": [{}]}, "mark": {"type": "text", "fontSize": 24, "align": "left", "baseline": "alphabetic", "dx": 54.3, "dy": -26}, "encoding": {"x": {"datum": 1}, "y": {"datum": 85}, "text": {"value": "Winter (JFM)"}}},
   {"data": {"values": [{}]}, "mark": {"type": "text", "fontSize": 29, "align": "center", "baseline": "alphabetic", "dx": 3, "dy": -69}, "encoding": {"x": {"datum": 5.5}, "y": {"datum": 85}, "text": {"value": "Simultaneous UT and LS temperature signal amplification"}}}
  ]},
  {"hconcat": [
   {"width": 264, "height": 287, "layer": [
    {"data": {"name": "f"}, "mark": {"type": "area"}, "encoding": {
     "x": {"field": "w", "type": "quantitative", "scale": {"domain": [1,10], "nice": false, "zero": false}, "axis": {"values": [2,4,6,8,10], "labelBaseline": "alphabetic", "labelPadding": 34, "labelOverlap": false, "title": "Wavenumber", "titlePadding": 7}},
     "y": {"field": "lo", "type": "quantitative", "stack": null, "scale": {"domain": [15,85], "nice": false, "zero": false}, "axis": {"values": [20,30,40,50,60,70,80], "labelExpr": "datum.value % 20 === 0 ? datum.label : ''", "labelAngle": -90, "labelAlign": "center", "labelBaseline": "alphabetic", "labelPadding": 18, "labelOverlap": false, "title": null}},
     "y2": {"field": "hi"},
     "color": {"field": "c", "type": "nominal", "legend": null, "scale": {"domain": ["p0","p2","p3","p4","p5","p6","p7","p8","p9","p10","p11","p12","p13","p14","r0","r3","r4","r5","r6","r7","r8","r9"], "range": ["#ffffff","#ffffd4","#ffff3c","#ffb200","#ff2400","#d4145c","#a020f0","#d21ef0","#ff00ff","#ff14c8","#ff40a0","#ff96c0","#ffb0c8","#ffc0cb","#ffffff","#ffffaa","#ffff33","#ffc400","#ff5a00","#f2051f","#cb137f","#a020f0"]}},
     "detail": {"field": "s"}}},
    {"data": {"values": [{}]}, "mark": {"type": "text", "fontSize": 36, "align": "left", "baseline": "alphabetic", "dx": -11, "dy": -25.5}, "encoding": {"x": {"datum": 1}, "y": {"datum": 85}, "text": {"value": "f)"}}},
    {"data": {"values": [{}]}, "mark": {"type": "text", "fontSize": 24, "align": "left", "baseline": "alphabetic", "dx": 67.3, "dy": -26}, "encoding": {"x": {"datum": 1}, "y": {"datum": 85}, "text": {"value": "Summer (JAS)"}}}
   ]},
   {"width": 12, "height": 203, "layer": [
    {"data": {"name": "keyR"}, "mark": {"type": "rect"}, "encoding": {
     "x": {"datum": 0, "scale": {"domain": [0,1], "nice": false, "zero": false}, "axis": null},
     "x2": {"datum": 1},
     "y": {"field": "lo", "type": "quantitative", "scale": {"domain": [0,1], "nice": false, "zero": false}, "axis": {"orient": "right", "values": [0,0.2,0.4,0.6,0.8,1.0], "format": ".1f", "tickSize": 14, "labelPadding": 12, "labelAlign": "left", "labelBaseline": "middle", "labelOverlap": false, "title": null}},
     "y2": {"field": "hi"},
     "color": {"field": "c", "type": "nominal", "legend": null, "scale": {"domain": ["p0","p2","p3","p4","p5","p6","p7","p8","p9","p10","p11","p12","p13","p14","r0","r3","r4","r5","r6","r7","r8","r9"], "range": ["#ffffff","#ffffd4","#ffff3c","#ffb200","#ff2400","#d4145c","#a020f0","#d21ef0","#ff00ff","#ff14c8","#ff40a0","#ff96c0","#ffb0c8","#ffc0cb","#ffffff","#ffffaa","#ffff33","#ffc400","#ff5a00","#f2051f","#cb137f","#a020f0"]}}}},
    {"data": {"values": [{}]}, "mark": {"type": "text", "fontSize": 24, "align": "center", "baseline": "alphabetic", "dx": 38, "dy": 62}, "encoding": {"x": {"datum": 0}, "y": {"datum": 0}, "text": {"value": "R"}}}
   ]}
  ], "spacing": 11.7, "bounds": "flush"}
 ], "spacing": 80.5, "bounds": "flush"}
],
"spacing": 464,
"bounds": "flush"
}
